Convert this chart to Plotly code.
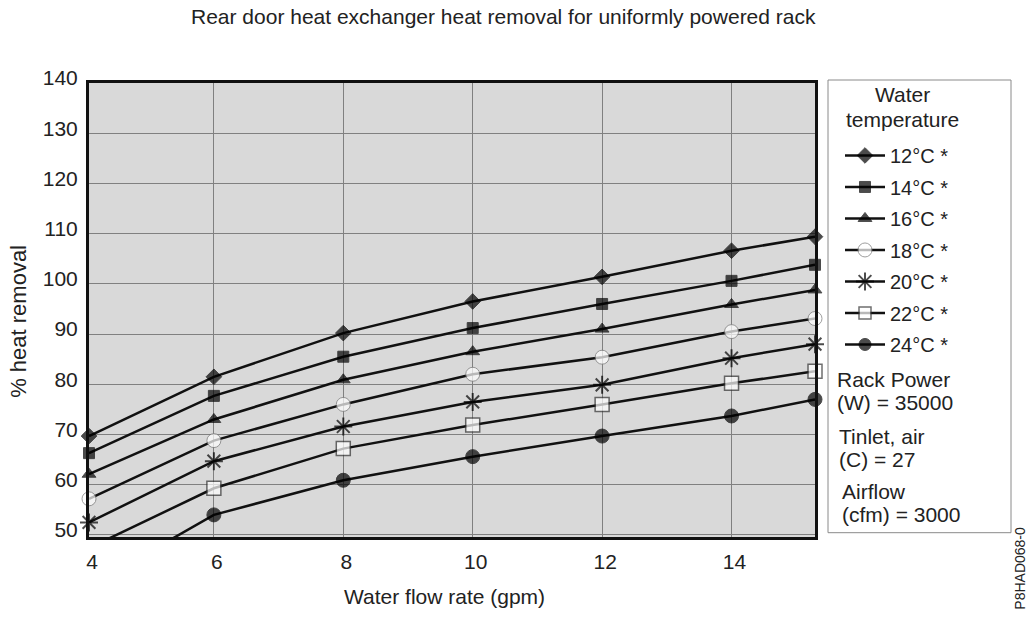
import plotly.graph_objects as go

# ---- data ----
flow_gpm = [4.07, 6, 8, 10, 12, 14, 15.29]
x_tick_vals = [4.07, 6, 8, 10, 12, 14]
x_tick_text = ["4", "6", "8", "10", "12", "14"]
y_tick_vals = [50, 60, 70, 80, 90, 100, 110, 120, 130, 140]

series_names = ["12°C *", "14°C *", "16°C *", "18°C *", "20°C *", "22°C *", "24°C *"]
heat_12 = [69.7, 81.5, 90.2, 96.5, 101.4, 106.6, 109.4]
heat_14 = [66.3, 77.7, 85.5, 91.2, 96.0, 100.6, 103.8]
heat_16 = [62.1, 73.0, 80.9, 86.5, 91.0, 95.9, 98.8]
heat_18 = [57.2, 68.8, 76.0, 82.0, 85.4, 90.5, 93.1]
heat_20 = [52.5, 64.7, 71.6, 76.5, 79.9, 85.2, 88.0]
heat_22 = [47.4, 59.3, 67.2, 71.9, 76.0, 80.2, 82.6]
heat_24 = [39.8, 54.0, 60.9, 65.6, 69.7, 73.7, 77.0]

legend_title_lines = ["Water", "temperature"]
info_lines = ["Rack Power", "(W) = 35000", "Tinlet, air", "(C) = 27", "Airflow", "(cfm) = 3000"]

# ---- styling ----
Y_MIN, Y_MAX = 49.6, 140
X_MIN, X_MAX = 4.07, 15.29
FONT = "Liberation Sans, Arial, sans-serif"
INK = "#000000"
TXT = "#222222"

styles = [
    dict(symbol="diamond", size=12, color=INK, line=dict(width=1, color=INK)),
    dict(symbol="square", size=11, color=INK, line=dict(width=1, color=INK)),
    dict(symbol="triangle-up", size=12, color=INK, line=dict(width=1, color=INK)),
    dict(symbol="circle", size=14, color="white", line=dict(width=1, color="#777777")),
    dict(symbol="asterisk-open", size=15, color=INK, line=dict(width=2, color=INK)),
    dict(symbol="square", size=14, color="white", line=dict(width=1.5, color="#333333")),
    dict(symbol="circle", size=14, color=INK, line=dict(width=1, color=INK)),
]

all_series = [heat_12, heat_14, heat_16, heat_18, heat_20, heat_22, heat_24]

fig = go.Figure()
for i, (name, vals, st) in enumerate(zip(series_names, all_series, styles)):
    sizes = [st["size"] if v >= Y_MIN else 0 for v in vals]
    marker = dict(symbol=st["symbol"], size=sizes, color=st["color"], line=st["line"])
    fig.add_trace(go.Scatter(
        x=flow_gpm, y=vals, name=name, mode="lines+markers",
        line=dict(color="#111111", width=2.5),
        marker=marker, cliponaxis=False, legendgroup="g%d" % i,
    ))

W, H = 1029, 624
PL, PR, PT, PB = 89, 815, 83, 537.3  # plot area in page pixels
L, R, T, B = PL, W - PR, PT, H - PB

def px_x(p):
    return (p - PL) / (PR - PL)

def px_y(p):
    return (PB - p) / (PB - PT)

def note(text, x, y, size, xanchor="center", angle=0):
    return dict(text=text, x=px_x(x), y=px_y(y), xref="paper", yref="paper",
                showarrow=False, xanchor=xanchor, yanchor="middle", textangle=angle,
                font=dict(size=size, color=TXT, family=FONT))

annotations = [
    note("Rear door heat exchanger heat removal for uniformly powered rack", 504, 16, 21),
    note("Water flow rate (gpm)", 444, 597, 21),
    note("% heat removal", 19, 322, 22, angle=-90),
    note("P8HAD068-0", 1020, 568, 14, angle=-90),
    note(legend_title_lines[0], 902, 95, 21),
    note(legend_title_lines[1], 902, 120, 21),
]
info_y = [380, 403, 437, 460, 492, 515]
info_x = [835, 835, 837, 837, 840, 840]
for txt, yy, xx in zip(info_lines, info_y, info_x):
    annotations.append(note(txt, xx, yy, 21, xanchor="left"))

fig.update_layout(
    width=W, height=H,
    margin=dict(l=L, r=R, t=T, b=B, autoexpand=False),
    paper_bgcolor="white", plot_bgcolor="#d9d9d9",
    font=dict(family=FONT, size=20, color=TXT),
    showlegend=True,
    legend=dict(
        x=px_x(840), y=px_y(136), xanchor="left", yanchor="top",
        xref="paper", yref="paper",
        bgcolor="rgba(0,0,0,0)", borderwidth=0,
        font=dict(size=20, family=FONT, color=TXT),
        tracegroupgap=2.5, itemwidth=40,
    ),
    shapes=[dict(type="rect", xref="paper", yref="paper",
                 x0=px_x(828), x1=px_x(1011), y0=px_y(533), y1=px_y(80),
                 line=dict(color="#8a8a8a", width=1), fillcolor="rgba(0,0,0,0)", layer="below")],
    annotations=annotations,
    xaxis=dict(range=[X_MIN, X_MAX], tickvals=x_tick_vals, ticktext=x_tick_text,
               showgrid=True, gridcolor="#808080", gridwidth=1, zeroline=False,
               showline=True, mirror=True, linecolor="#111111", linewidth=3,
               ticks="", ticklabelstandoff=4, ticklabelshift=3,
               tickfont=dict(size=21, family=FONT, color=TXT)),
    yaxis=dict(range=[Y_MIN, Y_MAX], tickvals=y_tick_vals,
               showgrid=True, gridcolor="#808080", gridwidth=1, zeroline=False,
               showline=True, mirror=True, linecolor="#111111", linewidth=3,
               ticks="", ticklabelstandoff=4, ticklabelshift=-5,
               tickfont=dict(size=21, family=FONT, color=TXT)),
)

fig.write_html("out.html", config={"displayModeBar": False},
               post_script="document.body.style.margin='0px';")
